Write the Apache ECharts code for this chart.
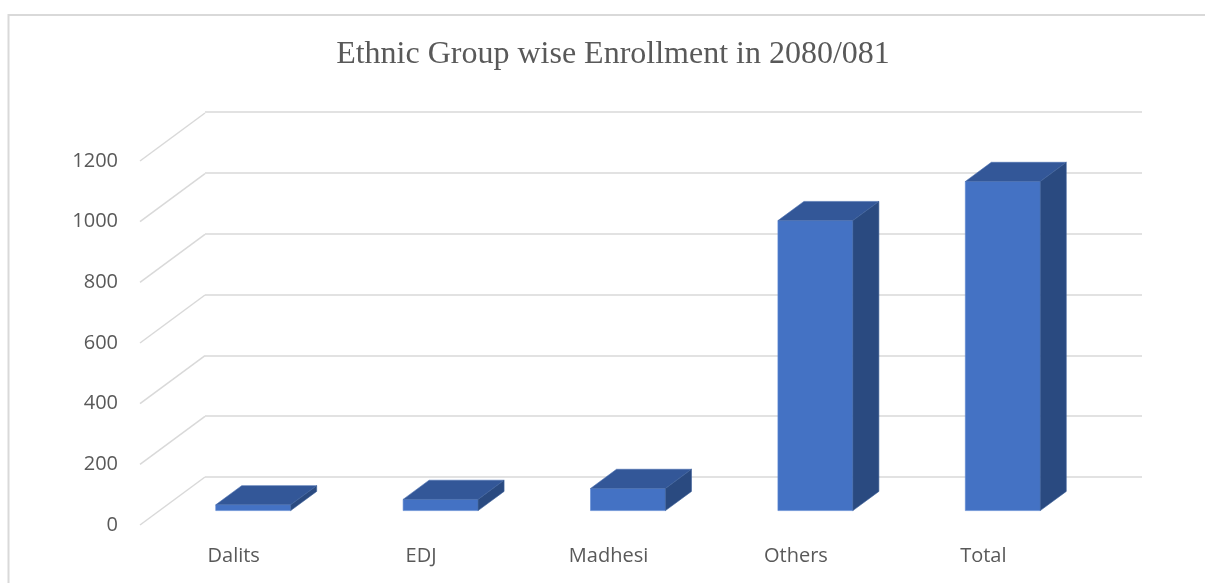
<!DOCTYPE html>
<html>
<head>
<meta charset="utf-8">
<script src="https://cdn.jsdelivr.net/npm/echarts@6/dist/echarts.min.js"></script>
<style>
html,body{margin:0;padding:0;background:#fff;}
#chart{width:1205px;height:583px;}
</style>
</head>
<body>
<div id="chart"></div>
<script>
// ---- data ----
const titleText = 'Ethnic Group wise Enrollment in 2080/081';
const categories = ['Dalits', 'EDJ', 'Madhesi', 'Others', 'Total'];
const enrollment = [19, 37, 73, 956, 1085];
const yTickValues = [0, 200, 400, 600, 800, 1000, 1200];

// ---- 3D look (pixel styling) ----
const DEPTH_X = 65, DEPTH_Y = 48;   // floor depth offset
const F0 = 0.3, F1 = 0.7;           // bar position in depth
const BAR_RATIO = 0.4;
const gridColor = '#d9d9d9';
const textColor = '#595959';

const chart = echarts.init(document.getElementById('chart'), null, {renderer: 'canvas'});

const option = {
  animation: false,
  backgroundColor: '#ffffff',
  title: {
    text: titleText,
    left: 608,
    textAlign: 'center',
    top: 34,
    textStyle: {fontFamily: 'Liberation Serif', fontSize: 32, fontWeight: 'normal', color: textColor}
  },
  graphic: [{
    type: 'rect',
    shape: {x: 8.5, y: 15, width: 1300, height: 700},
    style: {fill: 'none', stroke: gridColor, lineWidth: 2},
    silent: true
  }],
  grid: [
    // back wall
    {left: 205, right: 63, top: 112, bottom: 106},
    // front plane
    {left: 140, right: 128, top: 161, bottom: 58}
  ],
  xAxis: [
    {type: 'category', gridIndex: 0, data: categories, show: false},
    {type: 'category', gridIndex: 1, data: categories,
     axisLine: {show: false}, axisTick: {show: false},
     axisLabel: {margin: 21, fontFamily: 'Open Sans', fontSize: 20, color: textColor},
     splitLine: {show: false}}
  ],
  yAxis: [
    {type: 'value', gridIndex: 0, min: 0, max: 1200, interval: 200,
     axisLine: {show: false}, axisTick: {show: false}, axisLabel: {show: false},
     splitLine: {show: true, lineStyle: {color: gridColor, width: 1.5}}},
    {type: 'value', gridIndex: 1, min: 0, max: 1200, interval: 200,
     axisLine: {show: false}, axisTick: {show: false},
     axisLabel: {margin: 22, fontFamily: 'Open Sans', fontSize: 20, color: textColor,
                 formatter: function (v) { return String(v); }},
     splitLine: {show: false}}
  ],
  series: [
    {
      type: 'custom',
      xAxisIndex: 1, yAxisIndex: 1,
      z: 2,
      silent: true,
      data: yTickValues.map(v => [0, v]),
      renderItem: function (params, api) {
        const v = api.value(1);
        const p = api.coord([0, v]);
        const x0 = params.coordSys.x;
        return {
          type: 'line',
          shape: {x1: x0, y1: p[1], x2: x0 + DEPTH_X, y2: p[1] - DEPTH_Y},
          style: {stroke: gridColor, lineWidth: 1.5}
        };
      }
    },
    {
      type: 'custom',
      xAxisIndex: 1, yAxisIndex: 1,
      z: 3,
      data: enrollment.map((v, i) => [i, v]),
      renderItem: function (params, api) {
        const i = api.value(0), v = api.value(1);
        const top = api.coord([i, v]);
        const base = api.coord([i, 0]);
        const bw = api.size([1, 0])[0] * BAR_RATIO;
        const x0 = top[0] - bw / 2 + F0 * DEPTH_X;
        const x1 = x0 + bw;
        const yT = top[1] - F0 * DEPTH_Y;
        const yB = base[1] - F0 * DEPTH_Y;
        const ddx = (F1 - F0) * DEPTH_X;
        const ddy = (F1 - F0) * DEPTH_Y;
        return {
          type: 'group',
          children: [
            {type: 'rect', shape: {x: x0, y: yT, width: bw, height: yB - yT},
             style: {fill: '#4472C4', stroke: '#5b86d1', lineWidth: 0.6}},
            {type: 'polygon', shape: {points: [[x0, yT], [x1, yT], [x1 + ddx, yT - ddy], [x0 + ddx, yT - ddy]]},
             style: {fill: '#335798', stroke: '#4a6fb0', lineWidth: 0.6}},
            {type: 'polygon', shape: {points: [[x1, yT], [x1 + ddx, yT - ddy], [x1 + ddx, yB - ddy], [x1, yB]]},
             style: {fill: '#2a4a80', stroke: '#3d5f98', lineWidth: 0.6}}
          ]
        };
      }
    }
  ]
};
chart.setOption(option);
</script>
</body>
</html>
